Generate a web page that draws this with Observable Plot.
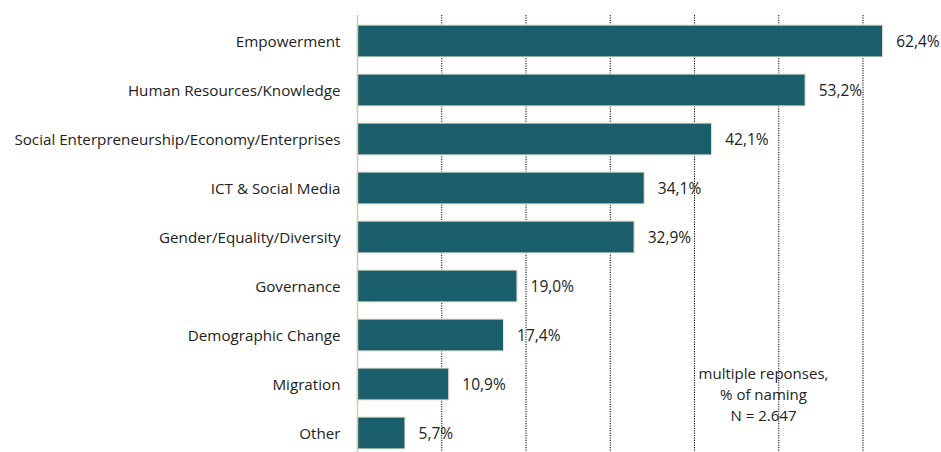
<!DOCTYPE html>
<html>
<head>
<meta charset="utf-8">
<script src="https://cdn.jsdelivr.net/npm/d3@7"></script>
<script src="https://cdn.jsdelivr.net/npm/@observablehq/plot@0.6"></script>
<style>
  html, body { margin: 0; padding: 0; background: #fff; }
  #chart svg { display: block; }
</style>
</head>
<body>
<div id="chart"></div>
<script>
const categories = [
  "Empowerment",
  "Human Resources/Knowledge",
  "Social Enterpreneurship/Economy/Enterprises",
  "ICT & Social Media",
  "Gender/Equality/Diversity",
  "Governance",
  "Demographic Change",
  "Migration",
  "Other"
];
const values = [62.4, 53.2, 42.1, 34.1, 32.9, 19.0, 17.4, 10.9, 5.7];
const gridTicks = [10, 20, 30, 40, 50, 60];
const noteText = "multiple reponses,\n% of naming\nN = 2.647";

const data = categories.map((c, i) => ({category: c, value: values[i]}));
const fmt = v => v.toFixed(1).replace(".", ",") + "%";
const font = "'Open Sans', sans-serif";

const chart = Plot.plot({
  width: 941,
  height: 452,
  marginLeft: 357,
  marginRight: 0,
  marginTop: 15,
  marginBottom: 0,
  style: {fontFamily: font, fontSize: "15px", color: "#222", background: "#fff"},
  x: {domain: [0, 70], range: [357, 946.75], axis: null},
  y: {domain: categories, range: [14.5, 458.5], paddingInner: 0.357, paddingOuter: 0.1785, label: null},
  marks: [
    Plot.ruleX(gridTicks, {stroke: "#000", strokeWidth: 1, strokeDasharray: "1.2,1.2"}),
    Plot.barX(data, {x: "value", y: "category", fill: "#1b5e6b", stroke: "#ece6d2", strokeWidth: 1.2}),
    Plot.ruleX([0], {stroke: "#d6cbb0", strokeWidth: 1.5}),
    Plot.text(data, {x: "value", y: "category", text: d => fmt(d.value), textAnchor: "start", dx: 13, dy: 1, fill: "#222", fontSize: 15.5}),
    Plot.axisY({tickSize: 0, tickPadding: 17, fontSize: 15.2, fill: "#222", dy: 1}),
    Plot.text([noteText], {frameAnchor: "top-left", dx: 406, dy: 378, textAnchor: "middle", lineAnchor: "middle", lineHeight: 1.4, fontSize: 15, fill: "#222"})
  ]
});
document.getElementById("chart").appendChild(chart);
</script>
</body>
</html>
